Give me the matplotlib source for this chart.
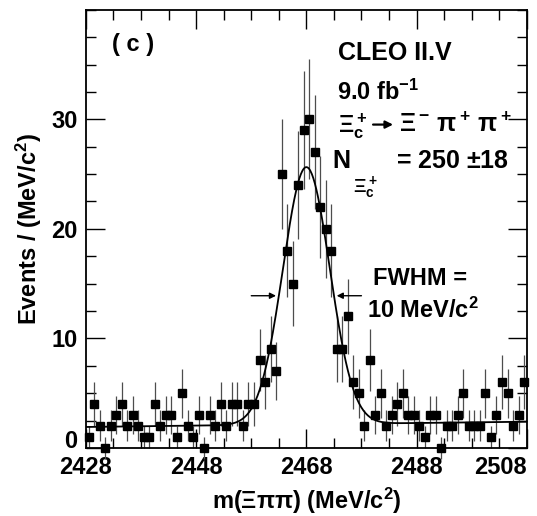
#!/usr/bin/env python3
"""
CLEO II.V - Xi_c+ -> Xi- pi+ pi+ mass spectrum, panel (c)
"""
import numpy as np
import matplotlib.pyplot as plt

plt.rcParams['font.family'] = ['Liberation Sans', 'DejaVu Sans']
plt.rcParams['font.weight'] = 'bold'
plt.rcParams['mathtext.fontset'] = 'custom'
plt.rcParams['mathtext.rm'] = 'Liberation Sans:bold'
plt.rcParams['mathtext.it'] = 'Liberation Sans:bold'
plt.rcParams['mathtext.bf'] = 'Liberation Sans:bold'

# 1 MeV bins, 2428 - 2508 MeV
bin_lo = 2428
events = [1, 4, 2, 0, 2, 3, 4, 2, 3, 2,
          1, 1, 4, 2, 3, 3, 1, 5, 2, 1,
          3, 0, 3, 2, 4, 2, 4, 4, 2, 4,
          4, 8, 6, 9, 7, 25, 18, 15, 24, 29,
          30, 27, 22, 20, 18, 9, 9, 12, 6, 5,
          2, 8, 3, 5, 2, 3, 4, 5, 3, 3,
          2, 1, 3, 3, 0, 2, 2, 3, 5, 2,
          2, 2, 5, 1, 3, 6, 5, 2, 3, 6]

# fit: gaussian (N = 250, FWHM = 10 MeV) on a linear background
n_signal = 250
fwhm = 10.0
mean = 2468.0
bkg_level = 2.15
bkg_slope = 0.006

x_ticks = [2428, 2448, 2468, 2488, 2508]
y_ticks = [0, 10, 20, 30]


def main():
    counts = np.array(events, dtype=float)
    centers = bin_lo + 0.5 + np.arange(len(counts))
    errs = np.sqrt(np.maximum(counts, 1))

    sigma = fwhm / 2.3548
    amp = n_signal / (sigma * np.sqrt(2 * np.pi))
    mm = np.linspace(2428, 2508, 600)
    fit = amp * np.exp(-0.5 * ((mm - mean) / sigma) ** 2) + bkg_level + bkg_slope * (mm - mean)

    fig = plt.figure(figsize=(5.37, 5.16), dpi=100)
    ax = fig.add_axes([0.160, 0.132, 0.821, 0.849])

    ax.errorbar(centers, counts, yerr=errs, fmt='none', ecolor='0.3',
                elinewidth=0.9, capsize=0, clip_on=False)
    ax.plot(centers, counts, 's', color='black', markersize=6, clip_on=False, zorder=5)
    ax.plot(mm, fit, color='black', lw=1.3)

    # FWHM arrows
    half = amp / 2 + bkg_level
    ax.annotate('', xy=(mean - fwhm / 2, half), xytext=(mean - 10.5, half),
                arrowprops=dict(arrowstyle='-|>', color='black', lw=1, mutation_scale=9))
    ax.annotate('', xy=(mean + fwhm / 2, half), xytext=(mean + 10.5, half),
                arrowprops=dict(arrowstyle='-|>', color='black', lw=1, mutation_scale=9))

    ax.set_xlim(2428, 2508)
    ax.set_ylim(0, 40)
    ax.set_xticks(x_ticks)
    ax.set_xticks(np.arange(2428, 2509, 5), minor=True)
    ax.set_yticks(y_ticks)
    ax.set_yticks(np.arange(0, 40.1, 2.5), minor=True)
    ax.tick_params(which='both', direction='in', top=True, right=True, width=1)
    ax.tick_params(which='major', length=14, labelsize=17, pad=6)
    ax.tick_params(which='minor', length=7)
    for sp in ax.spines.values():
        sp.set_linewidth(1.3)
    ax.get_xticklabels()[-1].set_horizontalalignment('right')
    ax.get_yticklabels()[0].set_verticalalignment('baseline')

    ax.set_xlabel(r'm($\Xi\pi\pi$) (MeV/c$^2$)', fontsize=17, fontweight='bold', labelpad=5)
    ax.set_ylabel(r'Events / (MeV/c$^2$)', fontsize=17, fontweight='bold', labelpad=5)

    tr = ax.transAxes
    ax.text(0.059, 0.92, '( c )', transform=tr, fontsize=17, fontweight='bold', va='center')
    ax.text(0.571, 0.886, 'CLEO II.V', transform=tr, fontsize=18, fontweight='bold', va='baseline')
    ax.text(0.569, 0.795, r'9.0 fb$^{-1}$', transform=tr, fontsize=17, fontweight='bold', va='baseline')
    # decay line
    ax.text(0.571, 0.721, r'$\Xi_c^+$', transform=tr, fontsize=17, va='baseline')
    ax.annotate('', xy=(0.703, 0.738), xytext=(0.645, 0.738), xycoords=tr, textcoords=tr,
                arrowprops=dict(arrowstyle='-|>', color='black', lw=1.6, mutation_scale=11))
    ax.text(0.710, 0.721, r'$\Xi^-\,\pi^+\,\pi^+$', transform=tr, fontsize=18, va='baseline')
    # yield
    ax.text(0.558, 0.639, 'N', transform=tr, fontsize=18, fontweight='bold', va='baseline')
    ax.text(0.605, 0.585, r'$\Xi_c^+$', transform=tr, fontsize=14, va='baseline')
    ax.text(0.703, 0.639, r'= 250 $\pm$18', transform=tr, fontsize=18,
            fontweight='bold', va='baseline')
    ax.text(0.651, 0.372, 'FWHM =', transform=tr, fontsize=17, fontweight='bold', va='baseline')
    ax.text(0.637, 0.297, r'10 MeV/c$^2$', transform=tr, fontsize=17, fontweight='bold', va='baseline')

    plt.savefig('out.png', dpi=100)


if __name__ == "__main__":
    main()
